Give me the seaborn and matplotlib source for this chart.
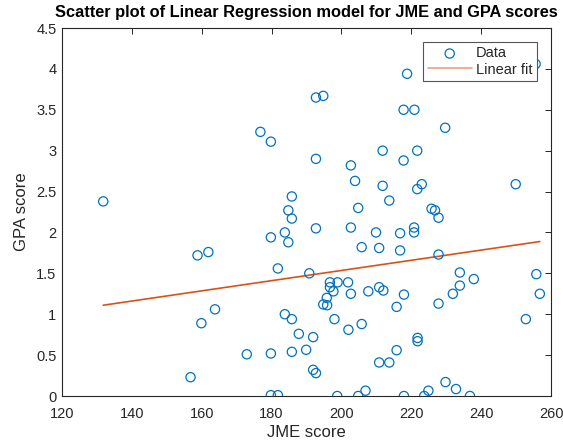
import numpy as np
import pandas as pd
import matplotlib
matplotlib.use("Agg")
import matplotlib.pyplot as plt
import seaborn as sns
from matplotlib.ticker import FuncFormatter

# ---- data ----
jme = [131.8, 176.8, 179.8, 192.7, 194.8, 192.7, 185.8, 184.8, 185.8, 218.8,
       217.8, 220.9, 229.7, 211.8, 221.7, 202.7, 217.8, 203.9, 211.8, 223.0,
       221.7, 249.9, 204.8, 213.7, 225.8, 226.8, 227.8, 255.6, 192.7, 179.8,
       183.8, 184.8, 158.8, 161.9, 181.8, 190.8, 163.8, 183.8, 185.8, 159.9,
       187.8, 191.9, 189.9, 172.9, 179.8, 185.8, 156.8, 191.9, 192.7, 179.8,
       181.8, 202.7, 205.8, 209.9, 210.8, 216.8, 216.8, 220.8, 220.8, 227.8,
       196.7, 198.9, 201.9, 196.7, 197.7, 202.7, 195.8, 194.8, 195.9, 207.7,
       210.8, 212.0, 217.9, 215.8, 227.8, 231.9, 233.9, 233.9, 237.9, 255.8,
       256.8, 252.8, 198.0, 202.0, 205.8, 221.8, 221.8, 215.8, 210.8, 213.7,
       229.8, 232.8, 206.9, 224.9, 198.8, 204.8, 217.9, 223.7, 236.8]
gpa = [2.38, 3.23, 3.11, 3.65, 3.67, 2.90, 2.44, 2.27, 2.17, 3.94,
       3.50, 3.50, 3.28, 3.00, 3.00, 2.82, 2.88, 2.63, 2.57, 2.59,
       2.53, 2.59, 2.30, 2.39, 2.29, 2.27, 2.18, 4.06, 2.05, 1.94,
       2.00, 1.88, 1.72, 1.76, 1.56, 1.50, 1.06, 1.00, 0.94, 0.89,
       0.76, 0.72, 0.565, 0.51, 0.52, 0.54, 0.23, 0.32, 0.28, 0.01,
       0.01, 2.06, 1.82, 2.00, 1.81, 1.99, 1.78, 2.06, 2.00, 1.73,
       1.39, 1.39, 1.39, 1.33, 1.28, 1.25, 1.20, 1.12, 1.11, 1.28,
       1.33, 1.29, 1.24, 1.09, 1.13, 1.25, 1.51, 1.35, 1.43, 1.49,
       1.25, 0.94, 0.94, 0.81, 0.88, 0.71, 0.67, 0.56, 0.41, 0.41,
       0.17, 0.085, 0.065, 0.065, 0.0, 0.0, 0.0, 0.0, 0.0]
fit_coef = [0.00623, 0.289]   # slope, intercept of the linear fit

x_ticks = [120, 140, 160, 180, 200, 220, 240, 260]
y_ticks = [0, 0.5, 1, 1.5, 2, 2.5, 3, 3.5, 4, 4.5]

title = "Scatter plot of Linear Regression model for JME and GPA scores"
xlabel = "JME score"
ylabel = "GPA score"

# ---- build tables ----
df = pd.DataFrame({"JME": jme, "GPA": gpa})
fx = np.array([min(jme), max(jme)])
fit_df = pd.DataFrame({"JME": fx, "GPA": np.polyval(fit_coef, fx)})

sns.set_style("white")
plt.rcParams["font.family"] = ["Liberation Sans", "DejaVu Sans"]

fig = plt.figure(figsize=(5.63, 4.42), dpi=100)
ax = fig.add_axes([62 / 563, 1 - 396 / 442, (551 - 62) / 563, (396 - 28) / 442])

blue = "#0072BD"
orange = "#D95319"
sns.scatterplot(data=df, x="JME", y="GPA", ax=ax, marker="o", s=44,
                facecolors="none", edgecolor=blue, linewidth=0.9,
                label="Data", zorder=3)
sns.lineplot(data=fit_df, x="JME", y="GPA", ax=ax, color=orange,
             linewidth=1.2, label="Linear fit", zorder=2)

ax.set_xlim(120, 260)
ax.set_ylim(0, 4.5)
ax.set_xticks(x_ticks)
ax.set_yticks(y_ticks)
ax.yaxis.set_major_formatter(FuncFormatter(lambda v, p: f"{v:g}"))

dark = "#262626"
for s in ax.spines.values():
    s.set_visible(True)
    s.set_color(dark)
    s.set_linewidth(0.8)
ax.tick_params(direction="in", length=4.5, width=0.7, colors=dark,
               labelsize=10.5, top=True, right=True, pad=4)
ax.tick_params(axis="x", pad=8)

ax.set_xlabel(xlabel, fontsize=12, color=dark, labelpad=3)
ax.set_ylabel(ylabel, fontsize=12, color=dark, labelpad=5)
ax.set_title(title, fontsize=11.8, fontweight="bold", color="black", pad=8)

leg = ax.legend(loc="upper right", bbox_to_anchor=(0.971, 0.962),
                frameon=True, fancybox=False, fontsize=10.5,
                borderpad=0.3, labelspacing=0.15, handlelength=3.0,
                handletextpad=0.3, borderaxespad=0.0)
leg.get_frame().set_edgecolor("#555555")
leg.get_frame().set_linewidth(0.8)
leg.get_frame().set_facecolor("white")
leg.get_frame().set_alpha(1)
leg.set_zorder(5)
for h in leg.get_lines():
    h.set_color("#EBA080")

fig.savefig("out.png", dpi=100)
